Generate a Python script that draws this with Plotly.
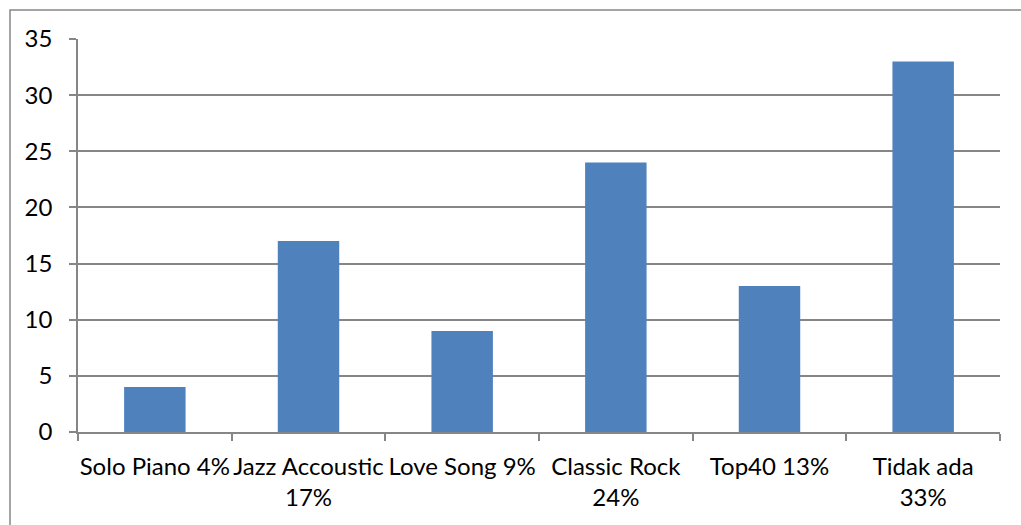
import plotly.graph_objects as go

categories = ["Solo Piano 4%", "Jazz Accoustic<br>17%", "Love Song 9%",
              "Classic Rock<br>24%", "Top40 13%", "Tidak ada<br>33%"]
values = [4, 17, 9, 24, 13, 33]
y_ticks = [0, 5, 10, 15, 20, 25, 30, 35]

W, H = 1021, 525
L, R, T, B = 78, 21, 39, 93
pw, ph = W - L - R, H - T - B

grid = "#868686"
font = dict(family="Lato, 'Open Sans', sans-serif", size=24, color="#000000")

fig = go.Figure(go.Bar(x=categories, y=values, marker=dict(color="#4F81BD", line=dict(width=0))))

fig.update_layout(
    width=W, height=H,
    margin=dict(l=L, r=R, t=T, b=B, pad=0, autoexpand=False),
    paper_bgcolor="white", plot_bgcolor="white",
    bargap=0.6, showlegend=False, font=font,
    shapes=[dict(type="rect", xref="paper", yref="paper",
                 x0=(10 - L) / pw, x1=(W + 20 - L) / pw,
                 y0=-(H + 20 - T - ph) / ph, y1=(H - 10 - B) / ph,
                 line=dict(color=grid, width=1.5), fillcolor="rgba(0,0,0,0)", layer="below")],
)
fig.update_xaxes(
    showline=True, linecolor=grid, linewidth=1.5, showgrid=False,
    ticks="outside", tickson="boundaries", ticklen=7, tickcolor=grid, tickwidth=1.5,
    ticklabelstandoff=12, tickfont=font, fixedrange=True, tickangle=0, automargin=False,
)
fig.update_yaxes(
    range=[0, 35], tickvals=y_ticks, showgrid=True, gridcolor=grid, gridwidth=1.5,
    showline=True, linecolor=grid, linewidth=1.5, zeroline=False,
    ticks="outside", ticklen=7, tickcolor=grid, tickwidth=1.5,
    ticklabelstandoff=12, tickfont=font, automargin=False,
)

fig.write_html("out.html")
